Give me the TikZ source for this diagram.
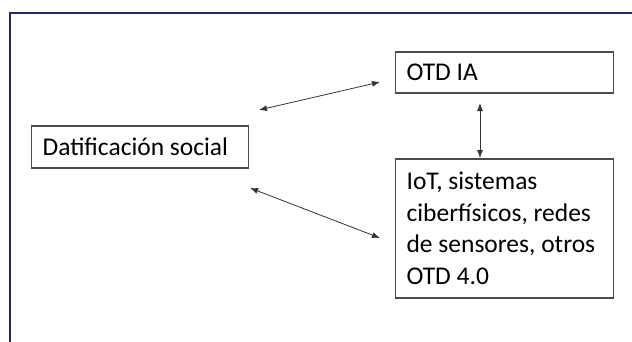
\documentclass[tikz,border=0pt]{standalone}
\usepackage{fontspec}
\setmainfont{Carlito}
\usetikzlibrary{arrows.meta}
\tikzset{
  box/.style={draw=black!70, line width=1.2pt, inner xsep=11pt, anchor=west,
    text width=196pt, font=\fontsize{25.5}{31.5}\selectfont, align=flush left},
  link/.style={{Latex[length=8pt,width=6pt]}-{Latex[length=8pt,width=6pt]}, draw=black!80, line width=0.8pt},
  frame/.style={draw=blue!30!black!85, line width=2pt}
}
\begin{document}
\begin{tikzpicture}[x=1pt,y=-1pt]
  \useasboundingbox[fill=white] (0,0) rectangle (632,341);
  \clip (0,0) rectangle (632,341);
  \draw[frame] (9.5,400) -- (9.5,12.5) -- (700,12.5);
  \node[box, text width=195pt, minimum height=42pt] (ds) at (31,147) {Datificaci\'on social};
  \node[box, minimum height=41pt] (ia) at (395,72.5) {OTD IA};
  \node[box, minimum height=139pt] (iot) at (395,228.5)
    {IoT, sistemas\\ciberf\'isicos, redes\\de sensores, otros\\OTD 4.0};
  \coordinate (ds1) at (259,110);
  \coordinate (ia1) at (380,82);
  \coordinate (ia2) at (480,103);
  \coordinate (iot1) at (480,158);
  \coordinate (ds2) at (250,188);
  \coordinate (iot2) at (380,238);
  \draw[link] (ds1) -- (ia1);
  \draw[link] (ia2) -- (iot1);
  \draw[link] (ds2) -- (iot2);
\end{tikzpicture}
\end{document}
